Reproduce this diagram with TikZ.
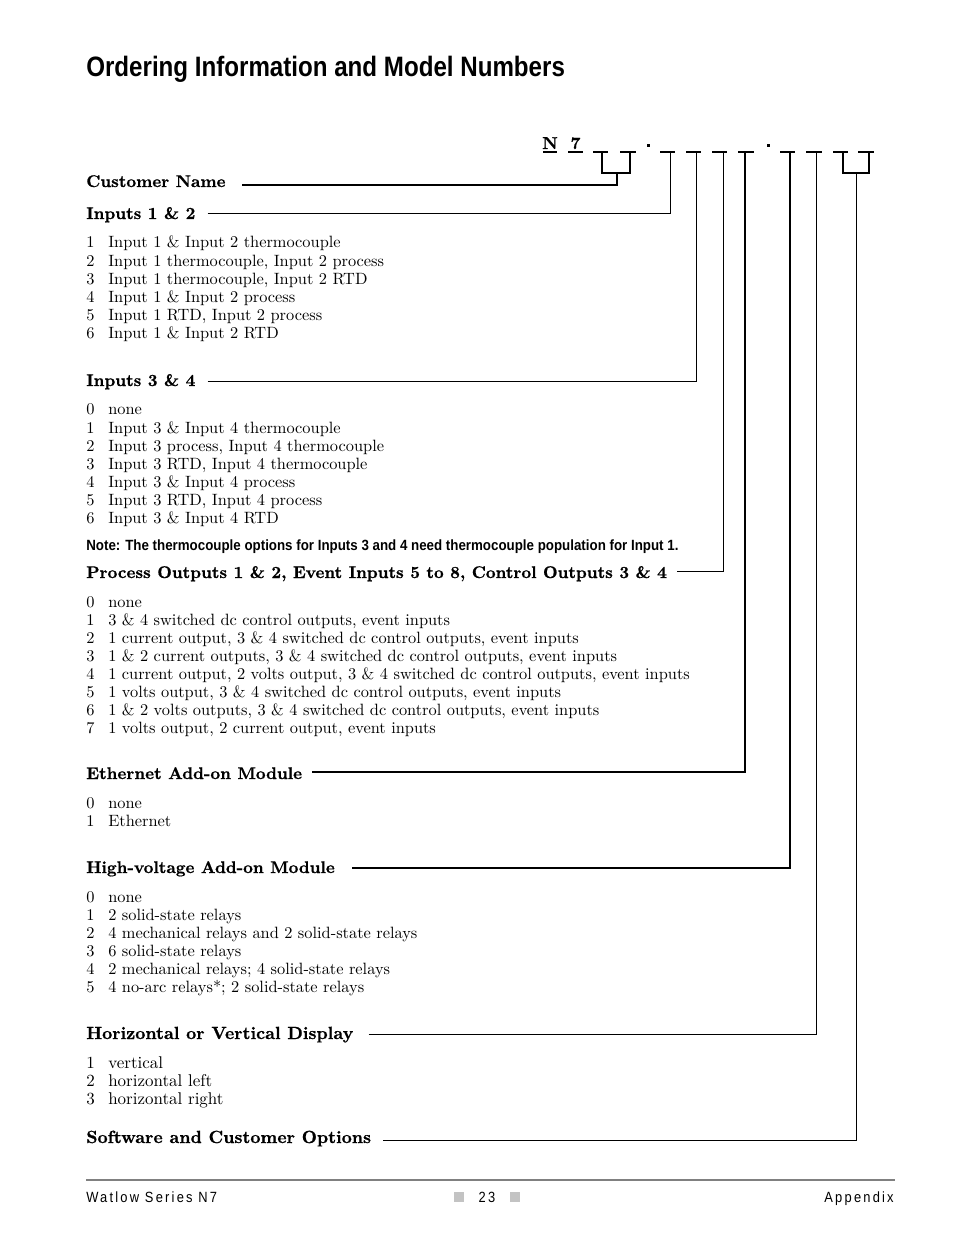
\documentclass[tikz,border=0pt]{standalone}
\usepackage{fontspec}
\newfontfamily\titlefont{Liberation Sans}[FakeStretch=0.86]
\newfontfamily\notefont{Liberation Sans}[FakeStretch=0.90]
\newfontfamily\footfont{Liberation Sans}[FakeStretch=0.87,LetterSpace=15]
\newfontfamily\headfont{lmroman10-bold.otf}[FakeBold=0.8]
\definecolor{rulegrey}{RGB}{128,128,128}
\definecolor{sqgrey}{RGB}{195,195,195}
\tikzset{
  txt/.style={inner sep=0pt, anchor=base west},
  head/.style={txt, font=\headfont\fontsize{10.85}{13}\selectfont},
  headb/.style={txt, font=\headfont\fontsize{11.3}{13}\selectfont},
  lst/.style={txt, font=\fontsize{10.5}{11.55}\selectfont},
  thickln/.style={line width=1.2pt},
  thinln/.style={line width=0.6pt},
  slotln/.style={line width=1.3pt},
}
\newcommand{\itm}[2]{\makebox[14.1pt][l]{#1}#2}
\begin{document}
\begin{tikzpicture}[x=0.64151pt,y=-0.64151pt]
\useasboundingbox (0,0) rectangle (954,1235);
% title
\node[txt, font=\titlefont\bfseries\fontsize{18}{20}\selectfont] (title) at (86,77) {Ordering Information and Model Numbers};
% model code
\node[inner sep=0pt, anchor=base, font=\headfont\fontsize{11}{13}\selectfont] (cN) at (550,149) {N};
\node[inner sep=0pt, anchor=base, font=\headfont\fontsize{11}{13}\selectfont] (c7) at (575.5,149) {7};
\foreach \a/\b [count=\i] in {543/557,568/583,593/608,620/636,660/675,686/701,712/727,738/754,780/795,806/822,833/848,858/874}{
  \draw[slotln] (\a,152) -- (\b,152);
}
\fill (646.5,144.5) rectangle (649.5,147.5);
\fill (766.5,144.5) rectangle (769.5,147.5);
% coordinates of the connector tops
\coordinate (b1l) at (602,153);
\coordinate (b1r) at (630,153);
\coordinate (b1m) at (617,173);
\coordinate (v5) at (670,153);
\coordinate (v6) at (696,153);
\coordinate (v7) at (723,153);
\coordinate (v8) at (745,153);
\coordinate (v9) at (790,153);
\coordinate (v10) at (816,153);
\coordinate (b2l) at (843,153);
\coordinate (b2r) at (869,153);
\coordinate (b2m) at (856,173);
% brackets
\draw[thickln] (b1l) |- (b1r |- b1m) -- (b1r);
\draw[thickln] (b2l) |- (b2r |- b2m) -- (b2r);
% headings
\node[head] (cust) at (86,187) {Customer Name};
\node[head] (in12) at (86,219) {Inputs 1 \& 2};
\node[head] (in34) at (86,386) {Inputs 3 \& 4};
\node[txt, font=\notefont\bfseries\fontsize{9.5}{11}\selectfont] (note) at (86,550) {Note: The thermocouple options for Inputs 3 and 4 need thermocouple population for Input 1.};
\node[head] (proc) at (86,578) {Process Outputs 1 \& 2, Event Inputs 5 to 8, Control Outputs 3 \& 4};
\node[head] (eth) at (86,779) {Ethernet Add-on Module};
\node[head] (hv) at (86,873) {High-voltage Add-on Module};
\node[headb] (disp) at (86,1039) {Horizontal or Vertical Display};
\node[headb] (soft) at (86,1143) {Software and Customer Options};
% connectors
\draw[thickln] ([xshift=10.6pt]cust.east |- 0,185) -- (b1m |- 0,185) -- (b1m);
\draw[thinln] ([xshift=7.7pt]in12.east |- 0,213) -- (v5 |- 0,213) -- (v5);
\draw[thinln] ([xshift=7.7pt]in34.east |- 0,381) -- (v6 |- 0,381) -- (v6);
\draw[thinln] ([xshift=6.4pt]proc.east |- 0,571) -- (v7 |- 0,571) -- (v7);
\draw[thickln] ([xshift=6.4pt]eth.east |- 0,772) -- (v8 |- 0,772) -- (v8);
\draw[thickln] ([xshift=10.9pt]hv.east |- 0,868) -- (v9 |- 0,868) -- (v9);
\draw[thinln] ([xshift=9.6pt]disp.east |- 0,1034) -- (v10 |- 0,1034) -- (v10);
\draw[thinln] ([xshift=7.7pt]soft.east |- 0,1140) -- (b2m |- 0,1140) -- (b2m);
% lists
\node[lst] (l12) at (86,248) {\begin{tabular}[t]{@{}l@{}}
\itm{1}{Input 1 \& Input 2 thermocouple}\\
\itm{2}{Input 1 thermocouple, Input 2 process}\\
\itm{3}{Input 1 thermocouple, Input 2 RTD}\\
\itm{4}{Input 1 \& Input 2 process}\\
\itm{5}{Input 1 RTD, Input 2 process}\\
\itm{6}{Input 1 \& Input 2 RTD}
\end{tabular}};
\node[lst] (l34) at (86,415) {\begin{tabular}[t]{@{}l@{}}
\itm{0}{none}\\
\itm{1}{Input 3 \& Input 4 thermocouple}\\
\itm{2}{Input 3 process, Input 4 thermocouple}\\
\itm{3}{Input 3 RTD, Input 4 thermocouple}\\
\itm{4}{Input 3 \& Input 4 process}\\
\itm{5}{Input 3 RTD, Input 4 process}\\
\itm{6}{Input 3 \& Input 4 RTD}
\end{tabular}};
\node[lst] (lproc) at (86,607) {\begin{tabular}[t]{@{}l@{}}
\itm{0}{none}\\
\itm{1}{3 \& 4 switched dc control outputs, event inputs}\\
\itm{2}{1 current output, 3 \& 4 switched dc control outputs, event inputs}\\
\itm{3}{1 \& 2 current outputs, 3 \& 4 switched dc control outputs, event inputs}\\
\itm{4}{1 current output, 2 volts output, 3 \& 4 switched dc control outputs, event inputs}\\
\itm{5}{1 volts output, 3 \& 4 switched dc control outputs, event inputs}\\
\itm{6}{1 \& 2 volts outputs, 3 \& 4 switched dc control outputs, event inputs}\\
\itm{7}{1 volts output, 2 current output, event inputs}
\end{tabular}};
\node[lst] (leth) at (86,808) {\begin{tabular}[t]{@{}l@{}}
\itm{0}{none}\\
\itm{1}{Ethernet}
\end{tabular}};
\node[lst] (lhv) at (86,902) {\begin{tabular}[t]{@{}l@{}}
\itm{0}{none}\\
\itm{1}{2 solid-state relays}\\
\itm{2}{4 mechanical relays and 2 solid-state relays}\\
\itm{3}{6 solid-state relays}\\
\itm{4}{2 mechanical relays; 4 solid-state relays}\\
\itm{5}{4 no-arc relays*; 2 solid-state relays}
\end{tabular}};
\node[lst, font=\fontsize{10.9}{11.55}\selectfont] (ldisp) at (86,1068) {\begin{tabular}[t]{@{}l@{}}
\itm{1}{vertical}\\
\itm{2}{horizontal left}\\
\itm{3}{horizontal right}
\end{tabular}};
% footer
\coordinate (fl) at (86,1180);
\coordinate (fr) at (895,1180);
\draw[rulegrey, line width=0.8pt] (fl) -- (fr);
\node[txt, font=\footfont\fontsize{9.5}{11}\selectfont] (fleft) at (86,1202) {Watlow Series N7};
\node[inner sep=0pt, anchor=base, font=\footfont\fontsize{9.5}{11}\selectfont] (fpage) at (487,1202) {23};
\node[inner sep=0pt, anchor=base east, font=\footfont\fontsize{9.5}{11}\selectfont] (fright) at (894,1202) {Appendix};
\fill[sqgrey] (454,1192) rectangle (464,1202);
\fill[sqgrey] (510,1192) rectangle (520,1202);
\end{tikzpicture}
\end{document}
